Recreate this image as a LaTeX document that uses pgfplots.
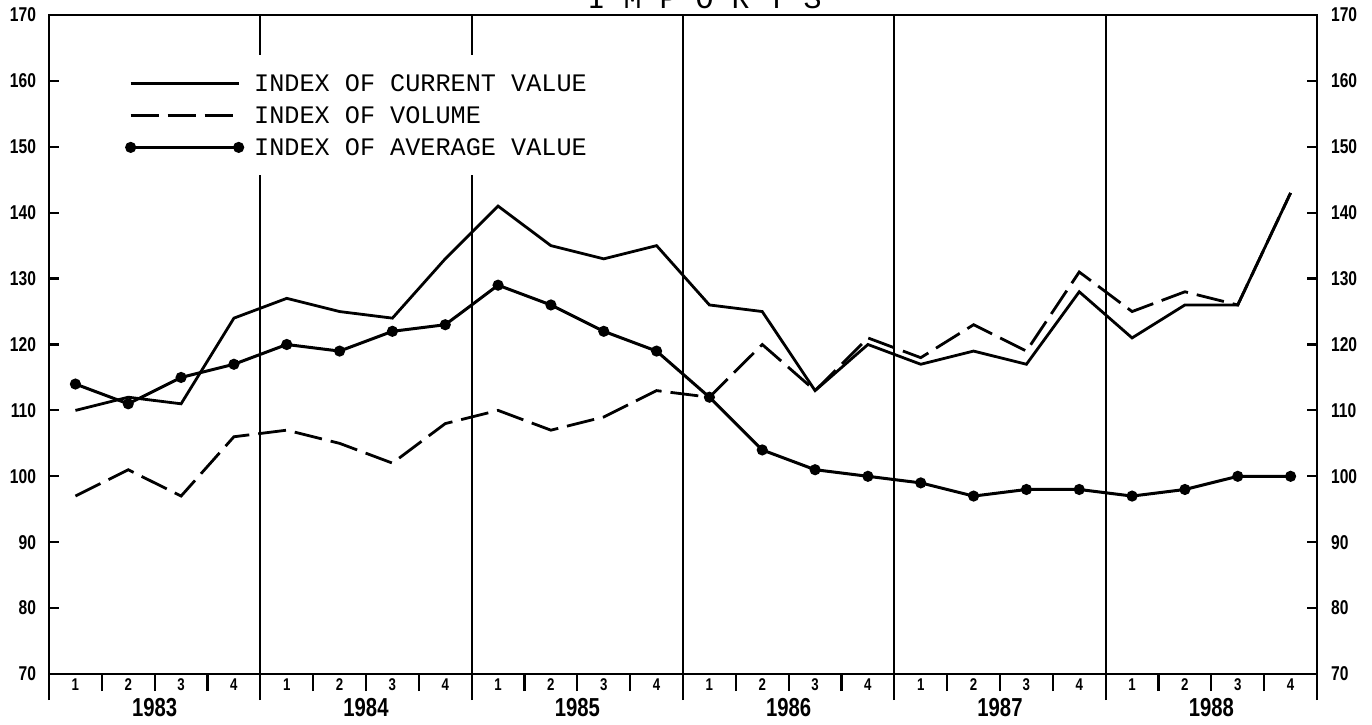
\documentclass[border=0pt]{standalone}
\usepackage{fontspec}
\setmainfont{Liberation Sans}
\newfontfamily\numfont{Liberation Sans}[FakeStretch=0.78]
\newfontfamily\legfont{Liberation Mono}
\usepackage{pgfplots}
\usepackage{pgfplotstable}
\pgfplotsset{compat=1.18}

\pgfplotstableread{
x    cur vol avg
0.5  110 97  114
1.5  112 101 111
2.5  111 97  115
3.5  124 106 117
4.5  127 107 120
5.5  125 105 119
6.5  124 102 122
7.5  133 108 123
8.5  141 110 129
9.5  135 107 126
10.5 133 109 122
11.5 135 113 119
12.5 126 112 112
13.5 125 120 104
14.5 113 113 101
15.5 120 121 100
16.5 117 118 99
17.5 119 123 97
18.5 117 119 98
19.5 128 131 98
20.5 121 125 97
21.5 126 128 98
22.5 126 126 100
23.5 143 143 100
}\imports

\begin{document}
\begin{tikzpicture}
\useasboundingbox (-24.5pt,-25pt) rectangle (661.5pt,337pt);
\begin{axis}[
  at={(0,0)}, anchor=south west, scale only axis,
  width=634pt, height=329.5pt,
  xmin=0, xmax=24, ymin=70, ymax=170,
  ytick=\empty,
  xtick={0.5,1.5,...,23.5},
  xticklabels={1,2,3,4,1,2,3,4,1,2,3,4,1,2,3,4,1,2,3,4,1,2,3,4},
  xtick pos=lower,
  tick align=outside,
  major tick length=0pt,
  minor xtick={1,2,3,5,6,7,9,10,11,13,14,15,17,18,19,21,22,23},
  minor tick length=8.5pt,
  extra x ticks={0,4,8,12,16,20,24},
  extra x tick labels={},
  extra x tick style={grid=major, major tick length=13pt},
  major grid style={line width=1pt, black},
  every tick/.style={black, line width=1.1pt},
  axis line style={line width=1.1pt},
  xticklabel style={font=\numfont\bfseries\fontsize{8.5}{8.5}\selectfont, inner sep=0pt, yshift=-2pt},
  clip=false,
  legend image code/.code={\draw[mark repeat=1,#1] plot coordinates {(0pt,0pt) (54pt,0pt)}; \path (61pt,0pt);},
  legend style={at={(axis cs:1.33,163.93)}, anchor=north west, draw=none, fill=white,
    inner xsep=3.5pt, inner ysep=9.75pt, row sep=7.5pt,
    font=\legfont\fontsize{12.6}{12.6}\selectfont,
    nodes={inner sep=0pt, text height=8.5pt, text depth=0pt}},
  legend cell align=left,
]
\addplot[black, line width=1.4pt] table[x=x,y=cur]{\imports};
\addlegendentry{INDEX OF CURRENT VALUE}
\addplot[black, line width=1.4pt, dash pattern=on 14pt off 4.5pt] table[x=x,y=vol]{\imports};
\addlegendentry{INDEX OF VOLUME}
\addplot[black, line width=1.5pt, mark=*, mark size=2pt, mark options={solid, fill=black}] table[x=x,y=avg]{\imports};
\addlegendentry{INDEX OF AVERAGE VALUE}
\node[font=\numfont\bfseries\fontsize{13}{13}\selectfont, yshift=-17pt] at (axis cs:2,70) {1983};
\node[font=\numfont\bfseries\fontsize{13}{13}\selectfont, yshift=-17pt] at (axis cs:6,70) {1984};
\node[font=\numfont\bfseries\fontsize{13}{13}\selectfont, yshift=-17pt] at (axis cs:10,70) {1985};
\node[font=\numfont\bfseries\fontsize{13}{13}\selectfont, yshift=-17pt] at (axis cs:14,70) {1986};
\node[font=\numfont\bfseries\fontsize{13}{13}\selectfont, yshift=-17pt] at (axis cs:18,70) {1987};
\node[font=\numfont\bfseries\fontsize{13}{13}\selectfont, yshift=-17pt] at (axis cs:22,70) {1988};
\node[font=\legfont\fontsize{15}{15}\selectfont, anchor=base, yshift=3pt] at (rel axis cs:0.517,1) {I\hspace{9pt}M\hspace{9pt}P\hspace{9pt}O\hspace{9pt}R\hspace{9pt}T\hspace{9pt}S};
\end{axis}
\begin{axis}[
  at={(0,0)}, anchor=south west, scale only axis,
  width=634pt, height=329.5pt,
  xmin=0, xmax=24, ymin=70, ymax=170,
  axis x line=none, axis y line*=left,
  axis line style={-, draw=none},
  ytick={70,80,...,170},
  tick align=inside, major tick length=5pt,
  every tick/.style={black, line width=1.1pt},
  /pgf/number format/assume math mode=true,
  yticklabel style={font=\numfont\bfseries\fontsize{10}{10}\selectfont, xshift=-3pt},
]
\end{axis}
\begin{axis}[
  at={(0,0)}, anchor=south west, scale only axis,
  width=634pt, height=329.5pt,
  xmin=0, xmax=24, ymin=70, ymax=170,
  axis x line=none, axis y line*=right,
  axis line style={-, draw=none},
  ytick={70,80,...,170},
  tick align=inside, major tick length=5pt,
  every tick/.style={black, line width=1.1pt},
  /pgf/number format/assume math mode=true,
  yticklabel style={font=\numfont\bfseries\fontsize{10}{10}\selectfont, xshift=3.5pt},
]
\end{axis}
\end{tikzpicture}
\end{document}
